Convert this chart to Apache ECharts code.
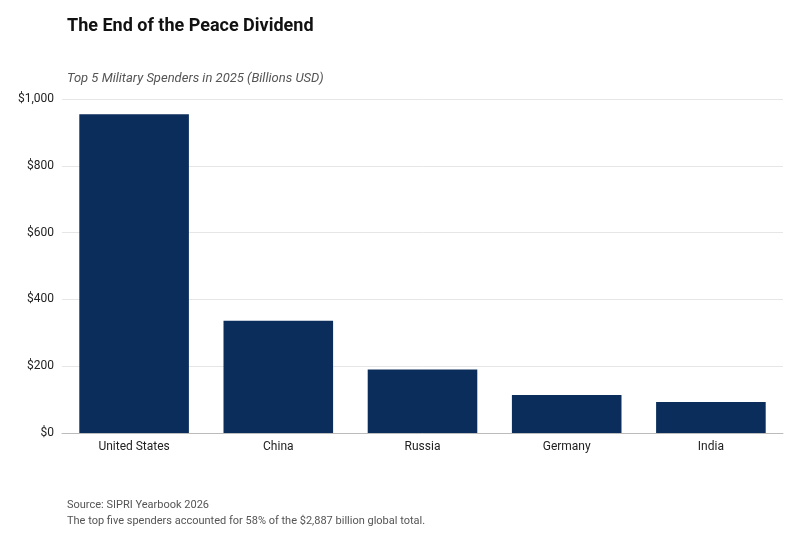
<!DOCTYPE html>
<html><head><meta charset="utf-8">
<script src="https://cdn.jsdelivr.net/npm/echarts@6/dist/echarts.min.js"></script>
<style>html,body{margin:0;padding:0;background:#fff}#c{width:800px;height:540px}</style>
</head><body><div id="c"></div>
<script>
const categories = ["United States", "China", "Russia", "Germany", "India"];
const spending = [954, 336, 190, 114, 93];
const chart = echarts.init(document.getElementById('c'));
chart.setOption({
  backgroundColor: '#fff',
  textStyle: { fontFamily: 'Roboto, Arial, sans-serif' },
  title: [
    { text: 'The End of the Peace Dividend', left: 62, top: 12, textStyle: { fontSize: 18, fontWeight: 'bold', color: '#111' } },
    { text: 'Top 5 Military Spenders in 2025 (Billions USD)', left: 62, top: 67, textStyle: { fontSize: 13, fontStyle: 'italic', fontWeight: 'normal', color: '#555' } },
    { text: 'Source: SIPRI Yearbook 2026', left: 62, top: 495, textStyle: { fontSize: 11, fontWeight: 'normal', color: '#555' } },
    { text: 'The top five spenders accounted for 58% of the $2,887 billion global total.', left: 62, top: 511, textStyle: { fontSize: 11, fontWeight: 'normal', color: '#555' } }
  ],
  grid: { left: 62, right: 17, top: 99, bottom: 107 },
  xAxis: {
    type: 'category', data: categories,
    axisLine: { lineStyle: { color: '#bbb' } }, axisTick: { show: false },
    axisLabel: { color: '#222', fontSize: 12 }
  },
  yAxis: {
    type: 'value', min: 0, max: 1000, interval: 200,
    axisLabel: { color: '#222', fontSize: 12, formatter: v => '$' + v.toLocaleString('en-US') },
    splitLine: { lineStyle: { color: '#e6e6e6' } },
    axisLine: { show: false }, axisTick: { show: false }
  },
  series: [{ type: 'bar', data: spending, barWidth: '76%', itemStyle: { color: '#0b2d5b' } }]
});
</script></body></html>
